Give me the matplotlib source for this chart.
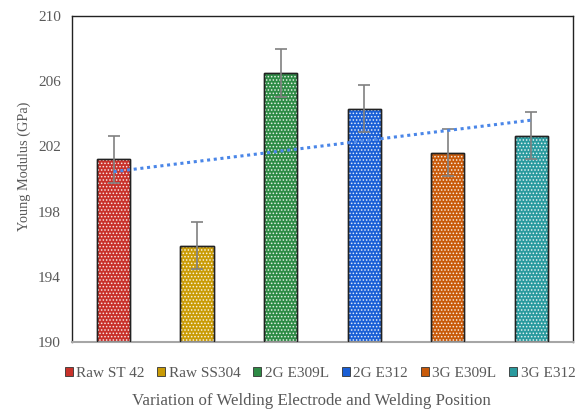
import numpy as np
import matplotlib.pyplot as plt
from matplotlib.patches import Patch

plt.rcParams['font.family'] = ['Liberation Serif', 'DejaVu Serif']
plt.rcParams['hatch.linewidth'] = 0.7

# Young modulus per welding electrode / position
categories = ['Raw ST 42', 'Raw SS304', '2G E309L', '2G E312', '3G E309L', '3G E312']
modulus = [201.2, 195.9, 206.5, 204.3, 201.6, 202.65]
errors = [1.45, 1.45, 1.45, 1.45, 1.45, 1.45]
colors = ['#c8312a', '#c99b06', '#2e8b45', '#1a5fd6', '#c85a0a', '#2a9a9e']

fig = plt.figure(figsize=(5.8, 4.09), dpi=100)
ax = fig.add_axes([0.124, 0.164, 0.864, 0.797])

x = np.arange(len(categories))
width = 0.4
heights = [m - 190 for m in modulus]

# coloured bars with a fine white dot pattern on top
ax.bar(x, heights, width, bottom=190, color=colors,
       edgecolor='#222222', linewidth=1.0, zorder=2)
ax.bar(x, heights, width, bottom=190, fill=False,
       edgecolor=(1, 1, 1, 0.85), hatch='.....', linewidth=0, zorder=3)
ax.bar(x, heights, width, bottom=190, fill=False,
       edgecolor='#222222', linewidth=1.0, zorder=3)

ax.errorbar(x, modulus, yerr=errors, fmt='none', ecolor='#808080',
            elinewidth=1.2, capsize=4, capthick=1.2, zorder=4)

# linear trend through the bar values
coef = np.polyfit(x, modulus, 1)
ax.plot(x, np.polyval(coef, x), linestyle=(0, (1, 1.2)), color='#4a86e8',
        linewidth=2.2, zorder=5)

ax.set_xlim(-0.5, len(categories) - 0.5)
ax.set_ylim(190, 210)
ax.set_yticks([190, 194, 198, 202, 206, 210])
ax.set_xticks([])
ax.tick_params(axis='y', length=0, labelsize=11, labelcolor='#595959', pad=8)

for side in ['left', 'top', 'right']:
    ax.spines[side].set_color('#222222')
    ax.spines[side].set_linewidth(1.0)
ax.spines['bottom'].set_color('#a6a6a6')
ax.spines['bottom'].set_linewidth(1.5)

ax.set_ylabel('Young Modulus (GPa)', fontsize=10.3, color='#595959')
ax.yaxis.set_label_coords(-0.082, 0.54)
ax.set_xlabel('Variation of Welding Electrode and Welding Position',
              fontsize=12.2, color='#595959')
ax.xaxis.set_label_coords(0.477, -0.158)

handles = [Patch(facecolor=c, edgecolor='#333333', linewidth=0.6, label=l)
           for c, l in zip(colors, categories)]
ax.legend(handles=handles, loc='upper center', bbox_to_anchor=(0.495, -0.035),
          ncol=6, frameon=False, fontsize=11, handlelength=0.52, handleheight=0.52,
          handletextpad=0.22, columnspacing=0.85, labelcolor='#595959')

fig.savefig('out.png', dpi=100)
